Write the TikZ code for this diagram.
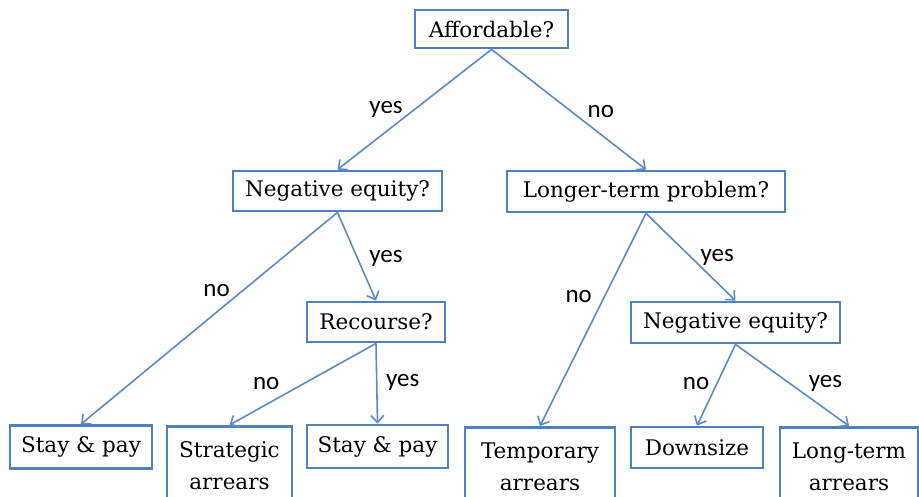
\documentclass[tikz,border=0pt]{standalone}
\usepackage{fontspec}
\setmainfont{DejaVu Serif}
\newfontfamily\ansfont{Carlito}
\usetikzlibrary{arrows.meta}
\definecolor{boxblue}{HTML}{4F81BD}
\definecolor{lineblue}{HTML}{5B8BC8}
\begin{document}
\begin{tikzpicture}[x=1pt, y=-1pt,
  qbox/.style={draw=boxblue, line width=2.8pt, fill=white, inner sep=0pt, align=center,
    font=\fontsize{21.5}{32}\selectfont},
  link/.style={draw=lineblue, line width=1.6pt, -{Straight Barb[length=7pt,width=13pt]}},
  ans/.style={font=\ansfont\fontsize{25}{28}\selectfont, inner sep=2pt}]
\useasboundingbox (0,0) rectangle (919,497);
\fill[white] (0,0) rectangle (919,497);
% questions
\node[qbox, minimum width=153, minimum height=38] (afford) at (491.5,29){Affordable?};
\node[qbox, minimum width=209, minimum height=40] (negL) at (337.5,191){Negative equity?};
\node[qbox, minimum width=278, minimum height=41] (longer) at (646,191.5){Longer-term problem?};
\node[qbox, minimum width=138, minimum height=40] (recourse) at (376,322){Recourse?};
\node[qbox, minimum width=209, minimum height=41] (negR) at (735.5,322.5){Negative equity?};
% outcomes
\node[qbox, minimum width=142, minimum height=43] (stay1) at (81,447){Stay \& pay};
\node[qbox, anchor=north, minimum width=125, minimum height=78] (strat) at (229.5,425){Strategic\\arrears};
\node[qbox, minimum width=141, minimum height=43] (stay2) at (377.5,446.5){Stay \& pay};
\node[qbox, anchor=north, minimum width=150, minimum height=78] (temp) at (540,426){Temporary\\arrears};
\node[qbox, minimum width=132, minimum height=41] (downsize) at (697,447.5){Downsize};
\node[qbox, anchor=north, minimum width=138, minimum height=78] (longterm) at (849,426){Long-term\\arrears};
% branches
\draw[link] (afford.south) -- node[ans, pos=0.5, left=9pt]{yes} (negL.north);
\draw[link] (afford.south) -- node[ans, pos=0.52, right=13pt]{no} (longer.north);
\draw[link] (negL.south) -- node[ans, pos=0.37, left=10pt]{no} (stay1.north);
\draw[link] (negL.south) -- node[ans, pos=0.52, right=9pt]{yes} (recourse.north);
\draw[link] (longer.south) -- node[ans, pos=0.39, left=10pt]{no} (temp.north);
\draw[link] (longer.south) -- node[ans, pos=0.5, right=7pt]{yes} (negR.north);
\draw[link] (recourse.south) -- node[ans, pos=0.49, left=22pt]{no} (strat.north);
\draw[link] (recourse.south) -- node[ans, pos=0.49, right=6.5pt]{yes} (stay2.north);
\draw[link] (negR.south) -- node[ans, pos=0.48, left=5pt]{no} (downsize.north);
\draw[link] (negR.south) -- node[ans, pos=0.48, right=16pt]{yes} (longterm.north);
\end{tikzpicture}
\end{document}
